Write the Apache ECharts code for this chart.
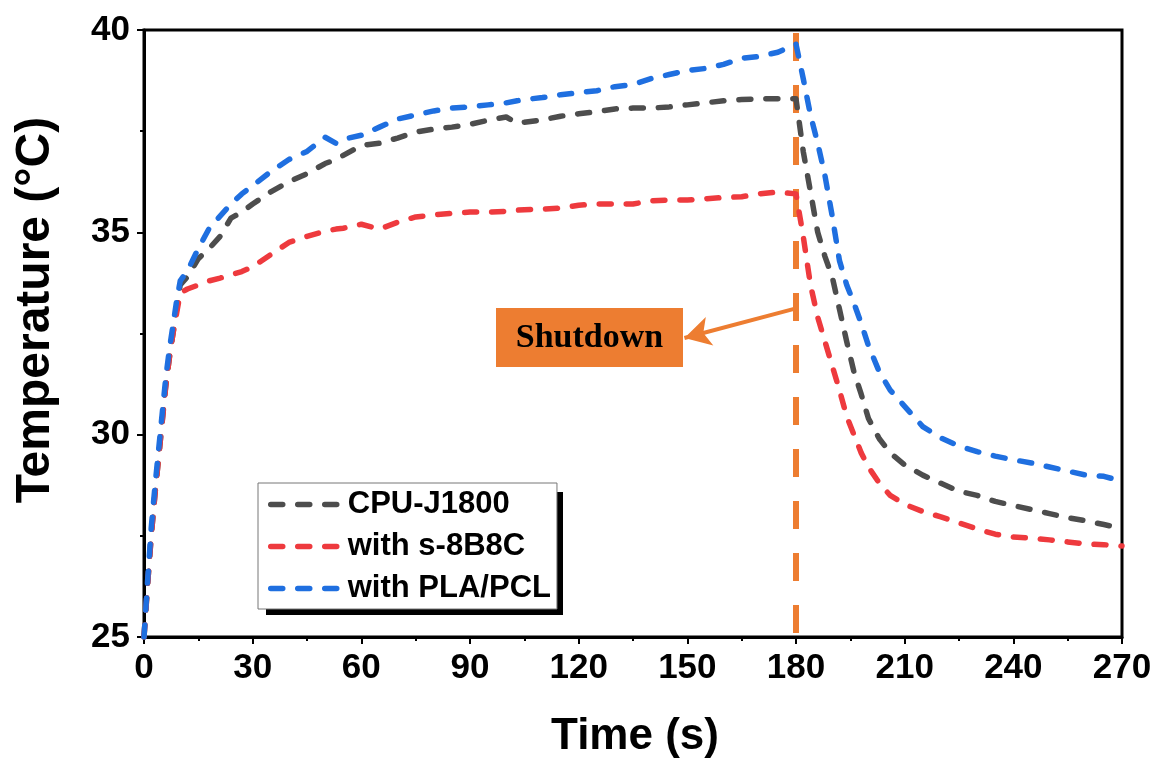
<!DOCTYPE html>
<html><head><meta charset="utf-8">
<script src="https://cdn.jsdelivr.net/npm/echarts@6/dist/echarts.min.js"></script>
<style>html,body{margin:0;padding:0;background:#fff}#c{width:1158px;height:762px}</style>
</head><body><div id="c"></div>
<script>
const time = [0,1,2,3,4,5,6,7,8,9,10,12,15,18,21,24,27,30,35,40,45,50,53,55,60,65,70,75,80,85,90,95,100,103,105,110,115,120,125,130,135,140,145,150,155,160,165,170,175,180,182,184,186,188,190,192,194,196,198,200,203,206,210,215,220,225,230,235,240,245,250,255,260,265,270];
const cpuJ1800 = [25.0,26.3,27.5,28.5,29.4,30.3,31.2,31.9,32.5,33.1,33.7,33.9,34.35,34.6,34.9,35.35,35.5,35.7,36.0,36.25,36.45,36.7,36.8,36.9,37.15,37.2,37.33,37.48,37.55,37.6,37.67,37.77,37.85,37.7,37.72,37.78,37.87,37.93,37.98,38.05,38.07,38.07,38.1,38.15,38.2,38.25,38.28,38.3,38.3,38.3,37.0,36.0,35.0,34.4,33.9,33.1,32.3,31.55,31.0,30.4,29.9,29.55,29.25,29.0,28.8,28.6,28.5,28.35,28.25,28.15,28.05,27.95,27.87,27.78,27.68];
const withS8B8C = [25.0,26.3,27.5,28.5,29.4,30.3,31.2,31.9,32.5,33.0,33.5,33.6,33.7,33.8,33.87,33.95,34.03,34.15,34.45,34.75,34.9,35.03,35.08,35.1,35.2,35.08,35.25,35.38,35.43,35.47,35.5,35.5,35.52,35.55,35.56,35.57,35.6,35.67,35.7,35.7,35.7,35.78,35.8,35.8,35.83,35.86,35.88,35.95,36.0,35.95,34.9,33.7,32.9,32.3,31.7,31.1,30.45,30.0,29.55,29.2,28.8,28.5,28.28,28.1,27.97,27.82,27.67,27.54,27.47,27.44,27.4,27.35,27.3,27.28,27.25];
const withPLAPCL = [25.0,26.4,27.7,28.7,29.6,30.5,31.4,32.1,32.7,33.3,33.8,34.05,34.6,35.1,35.4,35.7,35.95,36.15,36.5,36.8,37.0,37.35,37.2,37.3,37.4,37.6,37.8,37.9,38.0,38.07,38.1,38.15,38.2,38.25,38.28,38.33,38.4,38.45,38.5,38.6,38.65,38.8,38.9,39.0,39.05,39.15,39.3,39.35,39.45,39.65,38.8,37.9,37.2,36.4,35.4,34.3,33.7,33.25,32.75,32.2,31.55,31.1,30.7,30.2,29.92,29.72,29.58,29.47,29.38,29.3,29.2,29.1,29.0,28.97,28.85];
const seriesNames = ['CPU-J1800', 'with s-8B8C', 'with PLA/PCL'];
const seriesColors = ['#4d4d4d', '#ee3a3e', '#1f6fe0'];
const shutdownTime = 180;
const shutdownText = 'Shutdown';
const arrowFrom = [180, 33.12];
const arrowTo = [149.2, 32.39];
const xTitle = 'Time (s)';
const yTitle = 'Temperature (°C)';

const FONT = '"Liberation Sans", Arial, sans-serif';
const ORANGE = '#ED7D31';
const allValues = [cpuJ1800, withS8B8C, withPLAPCL];

const chart = echarts.init(document.getElementById('c'), null, {renderer: 'canvas'});

const series = allValues.map((vals, i) => ({
  name: seriesNames[i],
  type: 'line',
  data: time.map((t, k) => [t, vals[k]]),
  symbol: 'none',
  showSymbol: false,
  color: seriesColors[i],
  lineStyle: {color: seriesColors[i], width: 5.5, type: [12, 15], cap: 'round', join: 'round'},
  z: 3 + i
}));
series[0].markLine = {
  silent: true,
  symbol: ['none', 'none'],
  animation: false,
  label: {show: false},
  z: 2,
  data: [
    {xAxis: shutdownTime, lineStyle: {color: ORANGE, width: 6, type: [28, 24], dashOffset: 48, cap: 'butt'}},
    [
      {coord: arrowFrom, symbol: 'none', lineStyle: {color: ORANGE, width: 4, type: 'solid'}},
      {coord: arrowTo, symbol: 'arrow', symbolSize: [22, 26]}
    ]
  ]
};

const option = {
  animation: false,
  backgroundColor: '#fff',
  grid: {left: 144, right: 36, top: 30, bottom: 125, show: true, borderColor: '#000', borderWidth: 3, backgroundColor: 'transparent'},
  xAxis: {
    type: 'value', min: 0, max: 270, interval: 30,
    axisLine: {show: true, onZero: false, lineStyle: {color: '#000', width: 3}},
    axisTick: {show: true, inside: false, length: 7, lineStyle: {color: '#000', width: 2}},
    minorTick: {show: true, splitNumber: 2, length: 4, lineStyle: {color: '#000', width: 2}},
    splitLine: {show: false},
    axisLabel: {color: '#000', fontSize: 35, fontWeight: 'bold', fontFamily: FONT, margin: 14}
  },
  yAxis: {
    type: 'value', min: 25, max: 40, interval: 5,
    axisLine: {show: true, onZero: false, lineStyle: {color: '#000', width: 3}},
    axisTick: {show: true, inside: false, length: 7, lineStyle: {color: '#000', width: 2}},
    minorTick: {show: true, splitNumber: 2, length: 4, lineStyle: {color: '#000', width: 2}},
    splitLine: {show: false},
    axisLabel: {color: '#000', fontSize: 35, fontWeight: 'bold', fontFamily: FONT, margin: 14}
  },
  legend: {
    data: seriesNames,
    orient: 'vertical',
    left: 258, top: 483, z: 6,
    itemWidth: 78, itemHeight: 14, itemGap: 11,
    padding: [6, 6, 5, 4],
    backgroundColor: '#fff',
    borderColor: '#777', borderWidth: 1,
    selectedMode: false,
    textStyle: {color: '#000', fontSize: 31, fontWeight: 'bold', fontFamily: FONT},
    lineStyle: {width: 5.5, type: [12, 15], cap: 'round'},
    itemStyle: {opacity: 0}
  },
  graphic: [
    {type: 'rect', shape: {x: 266, y: 492, width: 297, height: 123}, z: 1, style: {fill: '#000'}},
    {type: 'text', x: 36, y: 310, rotation: Math.PI / 2, z: 10,
     style: {text: yTitle, fontSize: 48, fontWeight: 'bold', fontFamily: FONT, fill: '#000', align: 'center', verticalAlign: 'middle'}},
    {type: 'text', x: 635, y: 737, z: 10,
     style: {text: xTitle, fontSize: 44, fontWeight: 'bold', fontFamily: FONT, fill: '#000', align: 'center', verticalAlign: 'middle'}},
    {type: 'rect', shape: {x: 496, y: 308, width: 187, height: 59}, z: 10, style: {fill: ORANGE}},
    {type: 'text', x: 589.5, y: 338, z: 11,
     style: {text: shutdownText, fontSize: 34, fontWeight: 'bold', fontFamily: '"Liberation Serif", "Times New Roman", serif', fill: '#000', align: 'center', verticalAlign: 'middle'}}
  ],
  series: series
};
chart.setOption(option);
</script>
</body></html>
